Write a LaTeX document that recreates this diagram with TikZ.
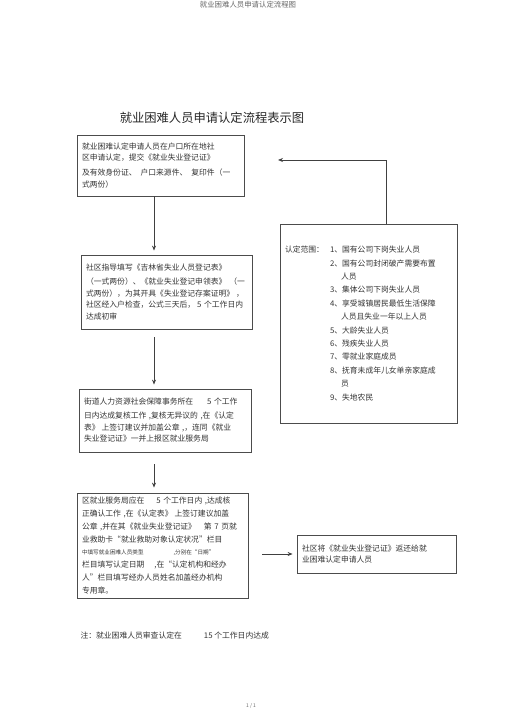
\documentclass[tikz,border=0pt]{standalone}
\usepackage{fontspec}
\setmainfont{Noto Sans CJK SC}
\usetikzlibrary{positioning, arrows.meta}

\tikzset{
  stepbox/.style={draw=black!70, line width=0.8pt, align=left, inner xsep=5pt, inner ysep=0pt,
    font=\fontsize{7.8}{11.5}\selectfont, text=black!80},
  flow/.style={draw=black!75, line width=0.8pt, -{Stealth[length=5pt,width=4pt]}}
}

\begin{document}
\begin{tikzpicture}[x=1pt, y=-1pt]
    \useasboundingbox (0,0) rectangle (505,714);

    % header, title, footer
    \node[font=\fontsize{7.4}{8}\selectfont, text=black!60] (head) at (248,5) {就业困难人员申请认定流程图};
    \node[font=\fontsize{12.3}{14}\selectfont, text=black!85] (title) at (212,118) {就业困难人员申请认定流程表示图};
    \node[font=\fontsize{5}{6}\selectfont, text=black!60] (foot) at (251,706) {1 / 1};

    % steps on the left
    \node[stepbox, text width=157pt, minimum height=61pt] (apply) at (160.5,165.5)
      {就业困难认定申请人员在户口所在地社\\
       区申请认定，提交《就业失业登记证》\\[3.5pt]
       及有效身份证、\hspace{4pt}户口来源件、\hspace{4pt}复印件（一\\
       式两份）};
    \node[stepbox, text width=161pt, minimum height=74pt] (commu) at (166.5,292)
      {社区指导填写《吉林省失业人员登记表》\\[2.5pt]
       （一式两份）、《就业失业登记申领表》\hspace{3pt}（一\\
       式两份），为其开具《失业登记存案证明》\hspace{2pt}，\\
       社区经入户检查，公式三天后，\hspace{2pt}5 个工作日内\\
       达成初审};
    \node[stepbox, text width=162pt, minimum height=63pt] (street) at (165,420.5)
      {街道人力资源社会保障事务所在\hspace{14pt}5 个工作\\[2.5pt]
       日内达成复核工作 ,复核无异议的 ,在《认定\\
       表》\hspace{2pt}上签订建议并加盖公章 ,，连同《就业\\
       失业登记证》一并上报区就业服务局};
    \node[stepbox, text width=161pt, minimum height=105pt, font=\fontsize{7.8}{12.8}\selectfont] (bureau) at (162.5,545.5)
      {区就业服务局应在\hspace{12pt}5 个工作日内 ,达成核\\
       正确认工作 ,在《认定表》\hspace{2pt}上签订建议加盖\\
       公章 ,并在其《就业失业登记证》\hspace{8pt}第 7 页就\\
       业救助卡“就业救助对象认定状况”栏目\\
       {\fontsize{5.6}{6}\selectfont 中填写就业困难人员类型\hspace{30pt},分别在“日期”}\\
       栏目填写认定日期\hspace{10pt},在“认定机构和经办\\
       人”栏目填写经办人员姓名加盖经办机构\\
       专用章。};

    % boxes on the right
    \node[stepbox, text width=167pt, minimum height=199pt, font=\fontsize{7.8}{13.4}\selectfont] (range) at (368.5,323.5)
      {\makebox[45pt][l]{认定范围：}1、国有公司下岗失业人员\\
       \hspace*{45pt}2、国有公司封闭破产需要布置\\
       \hspace*{56pt}人员\\
       \hspace*{45pt}3、集体公司下岗失业人员\\
       \hspace*{45pt}4、享受城镇居民最低生活保障\\
       \hspace*{56pt}人员且失业一年以上人员\\
       \hspace*{45pt}5、大龄失业人员\\
       \hspace*{45pt}6、残疾失业人员\\
       \hspace*{45pt}7、零就业家庭成员\\
       \hspace*{45pt}8、抚育未成年儿女单亲家庭成\\
       \hspace*{56pt}员\\
       \hspace*{45pt}9、失地农民};
    \node[stepbox, text width=149pt, minimum height=38pt] (back) at (376.5,554)
      {社区将《就业失业登记证》返还给就\\
       业困难认定申请人员};

    % note
    \node[anchor=west, font=\fontsize{7.8}{9}\selectfont, text=black!80] (note) at (77,636)
      {注：就业困难人员审查认定在\hspace{22pt}15 个工作日内达成};

    % connectors
    \coordinate (spine) at (154,0);
    \coordinate (turn) at (386,160);
    \coordinate (open) at (278,160);
    \draw[flow, shorten >=4pt] (apply.south -| spine) -- (commu.north -| spine);
    \draw[flow, shorten <=8pt, shorten >=4pt] (commu.south -| spine) -- (street.north -| spine);
    \draw[flow, shorten <=12pt, shorten >=5pt] (street.south -| spine) -- (bureau.north -| spine);
    \draw[flow, shorten <=14pt, shorten >=4pt] (bureau.east |- back.west) -- (back.west);
    \draw[flow] (range.north -| turn) -- (turn) -- (open);
\end{tikzpicture}
\end{document}
